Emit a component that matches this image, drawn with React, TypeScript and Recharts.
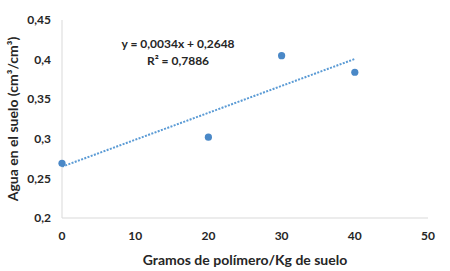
import { ComposedChart, Scatter, Line, XAxis, YAxis } from 'recharts'

const dosis = [0, 20, 30, 40]
const agua = [0.269, 0.302, 0.405, 0.384]

const pendiente = 0.0034
const intercepto = 0.2648
const r2 = '0,7886'

const xTicks = [0, 10, 20, 30, 40, 50]
const yTicks = [0.2, 0.25, 0.3, 0.35, 0.4, 0.45]

const puntos = dosis.map((x, i) => ({ x, agua: agua[i] }))
const tendencia = [0, 40].map(x => ({ x, trend: pendiente * x + intercepto }))

const font = 'Lato, "Open Sans", sans-serif'
const ink = '#262626'
const tick = { fill: ink, fontSize: 12, fontWeight: 700, fontFamily: font }
const titulo = { fill: ink, fontSize: 14, fontWeight: 700, fontFamily: font }
const coma = (v: number) => String(v).replace('.', ',')

const Dot = (p: { cx?: number; cy?: number }) => (
  <circle cx={p.cx} cy={p.cy} r={3.6} fill="#4a88c7" />
)

export default function App() {
  return (
    <div style={{ position: 'fixed', left: 0, top: 0, width: 450, height: 271, background: '#fff' }}>
      <ComposedChart width={450} height={271} margin={{ top: 20, right: 22, bottom: 0, left: 0 }}>
        <XAxis
          type="number"
          dataKey="x"
          domain={[0, 50]}
          ticks={xTicks}
          tick={tick}
          tickLine={false}
          tickMargin={7}
          height={53}
          stroke="#d9d9d9"
          label={{ value: 'Gramos de polímero/Kg de suelo', position: 'insideBottom', offset: 6, ...titulo }}
        />
        <YAxis
          type="number"
          domain={[0.2, 0.45]}
          ticks={yTicks}
          tickFormatter={coma}
          tick={tick}
          tickLine={false}
          tickMargin={5}
          width={62}
          stroke="#d9d9d9"
          label={{ value: 'Agua en el suelo (cm³/cm³)', angle: -90, position: 'insideLeft', offset: 13, style: { textAnchor: 'middle' }, ...titulo }}
        />
        <Line
          data={tendencia}
          dataKey="trend"
          type="linear"
          stroke="#5b9bd5"
          strokeWidth={2}
          strokeDasharray="2 1.4"
          dot={false}
          activeDot={false}
          isAnimationActive={false}
        />
        <Scatter data={puntos} dataKey="agua" shape={Dot} isAnimationActive={false} />
      </ComposedChart>
      <div style={{ position: 'absolute', left: 98, top: 35, width: 160, textAlign: 'center', fontFamily: font, fontWeight: 700, fontSize: 12, color: ink, lineHeight: '17px' }}>
        <div>y = {coma(pendiente)}x + {coma(intercepto)}</div>
        <div>R² = {r2}</div>
      </div>
    </div>
  )
}
